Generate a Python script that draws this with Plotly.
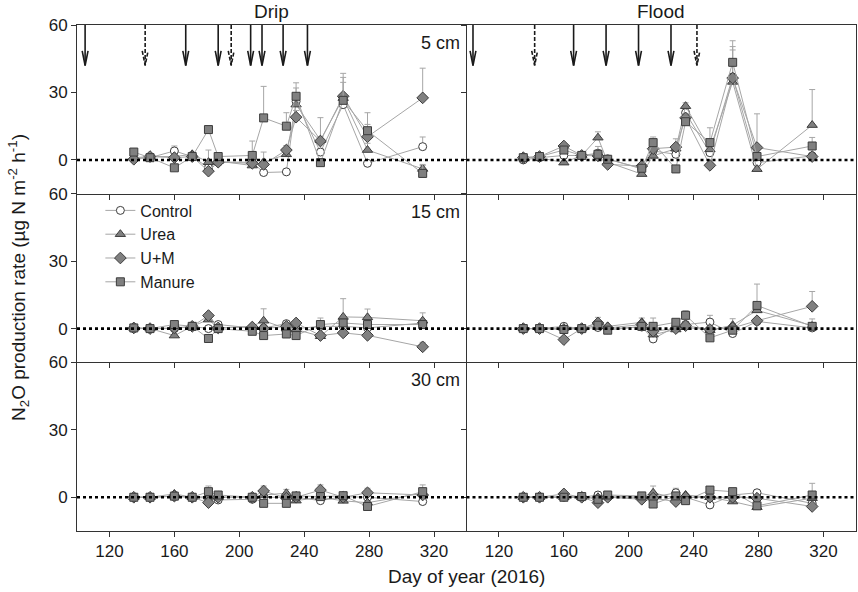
import plotly.graph_objects as go
from plotly.subplots import make_subplots

days = [135, 145, 160, 171, 181, 187, 208, 215, 229, 235, 250, 264, 279, 313]

# Drip, 5 cm
drip5_control = [0.5, 1, 4, 1.5, -3.5, -1, -1, -5.6, -5.3, 26, 3.5, 24.6, -1.5, 5.9]
drip5_urea = [1, 1.5, 1.5, 2.5, -1, -0.5, -2.5, -1, 2.5, 24.6, 8.8, 27.5, 4.4, -4]
drip5_um = [0.3, 1.5, 1, 1.5, -5, -1, -1.5, -2, 4.4, 19, 8.4, 28.3, 10.3, 27.6]
drip5_manure = [3.5, 1, -3.5, 1.5, 13.5, 1.5, 2, 18.7, 15, 28.3, -1.2, 26.5, 13, -6]
drip5_control_se = [0.5, 0.5, 2.2, 0.5, 1, 0.5, 1, 0.5, 0.5, 2, 1.5, 2, 1, 4.3]
drip5_urea_se = [0.5, 0.5, 1, 1, 5.4, 0.5, 1, 1, 2, 7.4, 10, 7, 3, 1.5]
drip5_um_se = [0.5, 0.5, 1, 0.5, 1, 0.5, 1, 5.5, 2, 3, 2, 8.4, 5.5, 13.2]
drip5_manure_se = [1, 0.5, 1, 0.5, 1, 1, 6.4, 14, 6, 6, 1, 12, 8, 4]

# Flood, 5 cm
flood5_control = [0, 1, 2, 2, 3, 0.5, -4, 4, 2.5, 21, 3.2, 36.9, -1.2, 1.8]
flood5_urea = [1, 1, -1.2, 2, 9.9, -1, -6.3, 1.8, 5, 23.9, 4.7, 34.7, -4.1, 15.5]
flood5_um = [1, 1.5, 6.2, 2, 1.8, -2, -2.7, 5, 5.7, 18.7, -2.4, 36.4, 5.5, 1.5]
flood5_manure = [1, 1.5, 4.4, 2, 2.5, 0.3, -3.7, 7.7, -4, 17, 7.7, 43.4, 1.5, 6.2]
flood5_control_se = [0.5, 0.5, 1, 0.5, 3, 0.5, 1, 1, 1, 2, 1.5, 12, 1, 1]
flood5_urea_se = [0.5, 0.5, 1, 0.5, 2.6, 0.5, 1, 1, 1, 1.5, 2, 3, 1, 15.8]
flood5_um_se = [0.5, 0.5, 1, 0.5, 1, 0.5, 1, 1, 3.7, 2, 1, 14, 15, 1]
flood5_manure_se = [0.5, 0.5, 1, 0.5, 1, 0.5, 1, 2.5, 1, 2, 6.6, 9.6, 1, 3.8]

# Drip, 15 cm
drip15_control = [0, 0, 0, 1, 0, 1.8, 0.3, 0.3, 2.2, 0, 1, 1, 0.3, 2.5]
drip15_urea = [0.3, 0, -3.1, 1, 4, 0.3, 1, 3.5, 0, -0.4, -3.4, 5.2, 5, 3.5]
drip15_um = [0.3, 0, 0.3, 1, 5.8, 0.3, 0.7, 0, 1, 2.5, -3.1, -1.9, -3, -8.1]
drip15_manure = [0.3, 0, 1.8, 1, -4.4, 0, -1.2, -3.1, -2.4, -3.1, 1.8, 2.5, 1.8, 1.8]
drip15_control_se = [0.3, 0.3, 0.5, 0.3, 0.5, 0.5, 0.5, 0.5, 0.5, 0.5, 0.5, 0.5, 0.5, 0.5]
drip15_urea_se = [0.3, 0.3, 0.5, 0.3, 1.5, 0.5, 0.5, 5.3, 0.5, 0.5, 0.5, 8.1, 3.7, 3.5]
drip15_um_se = [0.3, 0.3, 0.5, 0.3, 0.5, 0.5, 0.5, 0.5, 0.5, 0.5, 0.5, 0.5, 0.5, 2]
drip15_manure_se = [0.3, 0.3, 0.5, 0.3, 0.5, 0.5, 0.5, 0.5, 0.5, 0.5, 2.9, 0.5, 0.5, 0.5]

# Flood, 15 cm
flood15_control = [0, 0, 1, 0, 0.5, 0, 0.7, -4.6, 1, 1.8, 2.9, -2.2, 3.2, 0.3]
flood15_urea = [0, 0, 0.3, 0, 2.8, 1, 2.8, -2.7, -0.4, 0.6, -0.7, 1.5, 8.1, 1.3]
flood15_um = [0, 0, -4.9, 0, 2.5, 0.3, 1.8, -1.2, 0, 1.3, -0.4, 0.3, 3.5, 9.9]
flood15_manure = [0, 0, -0.4, 0, 1.5, -0.7, 1, 1, 2.8, 5.9, -4.1, -0.7, 10.3, 1]
flood15_control_se = [0.3, 0.3, 0.5, 0.3, 0.5, 0.5, 0.5, 0.5, 0.5, 0.5, 3, 0.5, 0.5, 0.5]
flood15_urea_se = [0.3, 0.3, 0.5, 0.3, 2.2, 0.5, 1.9, 0.5, 0.5, 0.5, 0.5, 2.9, 0.5, 0.5]
flood15_um_se = [0.3, 0.3, 0.5, 0.3, 0.5, 0.5, 0.5, 0.5, 0.5, 0.5, 0.5, 0.5, 0.5, 6.6]
flood15_manure_se = [0.3, 0.3, 0.5, 0.3, 0.5, 0.5, 0.5, 3.7, 0.5, 2.1, 0.5, 0.5, 9.5, 3.3]

# Drip, 30 cm
drip30_control = [0, 0, 0.5, 0, -0.4, -1.2, -0.9, 0, 0, 0, -1.5, 0.3, 0, -1.9]
drip30_urea = [0, 0, 1.5, 0, 0.3, 0, 0.3, 1, 1.8, -1.5, 0, -1.6, -2.4, 1.8]
drip30_um = [0, 0, 0.5, 0, -2.4, 0, 0, 2.8, -0.4, 0, 3.2, 0, 2, 1]
drip30_manure = [0, 0, 0.5, 0, 2.5, 1, 0, -2.7, -2.7, 0.6, 0.3, 0.7, -4.1, 2.5]
drip30_control_se = [0.2, 0.2, 0.3, 0.2, 0.3, 0.3, 0.3, 0.3, 0.3, 0.3, 0.3, 0.3, 0.3, 0.3]
drip30_urea_se = [0.2, 0.2, 1, 0.2, 0.3, 0.3, 0.3, 0.3, 1.7, 0.3, 0.3, 0.3, 0.3, 0.3]
drip30_um_se = [0.2, 0.2, 0.3, 0.2, 0.3, 0.3, 0.3, 2.2, 0.3, 0.3, 2.3, 0.3, 2, 0.3]
drip30_manure_se = [0.2, 0.2, 0.3, 0.2, 2.5, 0.3, 0.3, 0.3, 0.3, 0.3, 0.3, 0.3, 0.3, 3]

# Flood, 30 cm
flood30_control = [0, 0, 0, 0, 1, 0, 0, 0, 2, 0, -3.4, 1, 2, -2.7]
flood30_urea = [0, 0, 0, 0, 0, 0.6, 0, 2, -0.4, 1, 0, -1.9, -4.4, -0.4]
flood30_um = [0, 0, 1.5, 0, -2.4, 0, -0.9, -0.4, -1.9, 0, 0, 0, -0.4, -4.1]
flood30_manure = [0, 0, 0, 0.3, -0.9, 1, 0.6, -3, 0.6, -1.5, 3.2, 2.5, -3.8, 1]
flood30_control_se = [0.2, 0.2, 0.3, 0.2, 0.3, 0.3, 0.3, 0.3, 2, 0.3, 0.3, 0.3, 0.3, 0.3]
flood30_urea_se = [0.2, 0.2, 0.3, 0.2, 0.3, 0.3, 0.3, 3, 0.3, 0.3, 0.3, 0.3, 0.3, 0.3]
flood30_um_se = [0.2, 0.2, 0.3, 0.2, 0.3, 0.3, 0.3, 0.3, 0.3, 0.3, 0.3, 0.3, 0.3, 0.3]
flood30_manure_se = [0.2, 0.2, 0.3, 0.2, 0.3, 0.3, 0.3, 0.3, 0.3, 0.3, 0.3, 0.3, 0.3, 5.2]

# fertilization / irrigation events (arrows)
drip_events_solid = [105, 167, 187, 207, 214, 227, 242]
drip_events_dashed = [142, 195]
flood_events_solid = [104, 166, 186, 206, 226]
flood_events_dashed = [142, 242]

treatments = ["Control", "Urea", "U+M", "Manure"]
depths = ["5 cm", "15 cm", "30 cm"]
systems = ["Drip", "Flood"]

panels = {
    (1, 1): [(drip5_control, drip5_control_se), (drip5_urea, drip5_urea_se),
             (drip5_um, drip5_um_se), (drip5_manure, drip5_manure_se)],
    (1, 2): [(flood5_control, flood5_control_se), (flood5_urea, flood5_urea_se),
             (flood5_um, flood5_um_se), (flood5_manure, flood5_manure_se)],
    (2, 1): [(drip15_control, drip15_control_se), (drip15_urea, drip15_urea_se),
             (drip15_um, drip15_um_se), (drip15_manure, drip15_manure_se)],
    (2, 2): [(flood15_control, flood15_control_se), (flood15_urea, flood15_urea_se),
             (flood15_um, flood15_um_se), (flood15_manure, flood15_manure_se)],
    (3, 1): [(drip30_control, drip30_control_se), (drip30_urea, drip30_urea_se),
             (drip30_um, drip30_um_se), (drip30_manure, drip30_manure_se)],
    (3, 2): [(flood30_control, flood30_control_se), (flood30_urea, flood30_urea_se),
             (flood30_um, flood30_um_se), (flood30_manure, flood30_manure_se)],
}

symbols = ["circle", "triangle-up", "diamond", "square"]
fills = ["white", "#808080", "#808080", "#808080"]
sizes = [8, 9, 9, 8]

FONT = "Arial, Liberation Sans, sans-serif"

fig = make_subplots(rows=3, cols=2, horizontal_spacing=0, vertical_spacing=0)

for (r, c), series in panels.items():
    for k, (vals, se) in enumerate(series):
        fig.add_trace(go.Scatter(
            x=days, y=vals, mode="lines+markers", name=treatments[k],
            showlegend=(r, c) == (1, 1),
            line=dict(color="#a6a6a6", width=1),
            marker=dict(symbol=symbols[k], size=sizes[k], color=fills[k],
                        line=dict(color="#3c3c3c", width=1)),
            error_y=dict(type="data", array=se, arrayminus=[0] * len(se),
                         symmetric=False, color="#a6a6a6", thickness=1, width=3),
        ), row=r, col=c)


def arrow_path(events, top=60, tip=42, head=6.5, half=1.8):
    xs, ys = [], []
    for d in events:
        xs += [d, d, None, d - half, d, d + half, None]
        ys += [top, tip, None, tip + head, tip, tip + head, None]
    return xs, ys


for c, (solid, dashed) in enumerate([(drip_events_solid, drip_events_dashed),
                                     (flood_events_solid, flood_events_dashed)], start=1):
    for ev, dash in [(solid, "solid"), (dashed, "4px,2px")]:
        ax, ay = arrow_path(ev)
        fig.add_trace(go.Scatter(x=ax, y=ay, mode="lines", showlegend=False,
                                 hoverinfo="skip",
                                 line=dict(color="#1a1a1a", width=1.6, dash=dash)),
                      row=1, col=c)

# dotted zero lines
for r in range(1, 4):
    for c in range(1, 3):
        n = (r - 1) * 2 + c
        sfx = "" if n == 1 else str(n)
        fig.add_shape(type="line", xref=f"x{sfx} domain", yref=f"y{sfx}",
                      x0=0, x1=1, y0=0, y1=0,
                      line=dict(color="black", width=2.6, dash="dot"))

fig.update_xaxes(range=[100, 340], tickvals=[120, 160, 200, 240, 280, 320],
                 ticks="outside", ticklen=5, tickcolor="#333",
                 showline=True, linecolor="#333", linewidth=1, mirror=False,
                 showgrid=False, zeroline=False,
                 tickfont=dict(family=FONT, size=17, color="#1a1a1a"))
fig.update_xaxes(showticklabels=False, mirror=True, row=1)
fig.update_xaxes(showticklabels=False, row=2)
fig.update_yaxes(range=[-15, 60], tickvals=[0, 30, 60],
                 ticks="outside", ticklen=5, tickcolor="#333",
                 showline=True, linecolor="#333", linewidth=1, mirror=False,
                 showgrid=False, zeroline=False,
                 tickfont=dict(family=FONT, size=17, color="#1a1a1a"))
fig.update_yaxes(showticklabels=False, mirror=True, col=2)

annotations = []
for c, name in enumerate(systems):
    annotations.append(dict(text=name, x=0.25 + 0.5 * c, y=1, xref="paper", yref="paper",
                            xanchor="center", yanchor="bottom", yshift=1, showarrow=False,
                            font=dict(family=FONT, size=19, color="#1a1a1a")))
for r, depth in enumerate(depths):
    annotations.append(dict(text=depth, x=0.494, y=1 - r / 3 - 0.012,
                            xref="paper", yref="paper", xanchor="right", yanchor="top",
                            showarrow=False,
                            font=dict(family=FONT, size=18, color="#1a1a1a")))
annotations.append(dict(text="Day of year (2016)", x=0.5, y=0, xref="paper", yref="paper",
                        xanchor="center", yanchor="top", yshift=-33, showarrow=False,
                        font=dict(family=FONT, size=19, color="#1a1a1a")))
annotations.append(dict(text="N<sub>2</sub>O production rate (µg N m<sup>-2</sup> h<sup>-1</sup>)",
                        x=0, y=0.5, xref="paper", yref="paper", xanchor="center",
                        yanchor="middle", xshift=-59, textangle=-90, showarrow=False,
                        font=dict(family=FONT, size=19, color="#1a1a1a")))

fig.update_layout(
    width=858, height=592,
    margin=dict(l=77, r=2, t=25, b=61),
    paper_bgcolor="white", plot_bgcolor="white",
    annotations=annotations,
    legend=dict(x=0.03, y=0.667, xanchor="left", yanchor="top",
                bgcolor="rgba(0,0,0,0)", tracegroupgap=0,
                font=dict(family=FONT, size=16, color="#1a1a1a")),
)

# drop the default 8 px page margin so the figure sits at the window corner
fig.write_html("out.html", config={"displayModeBar": False},
               post_script="document.body.style.margin = '0';")
